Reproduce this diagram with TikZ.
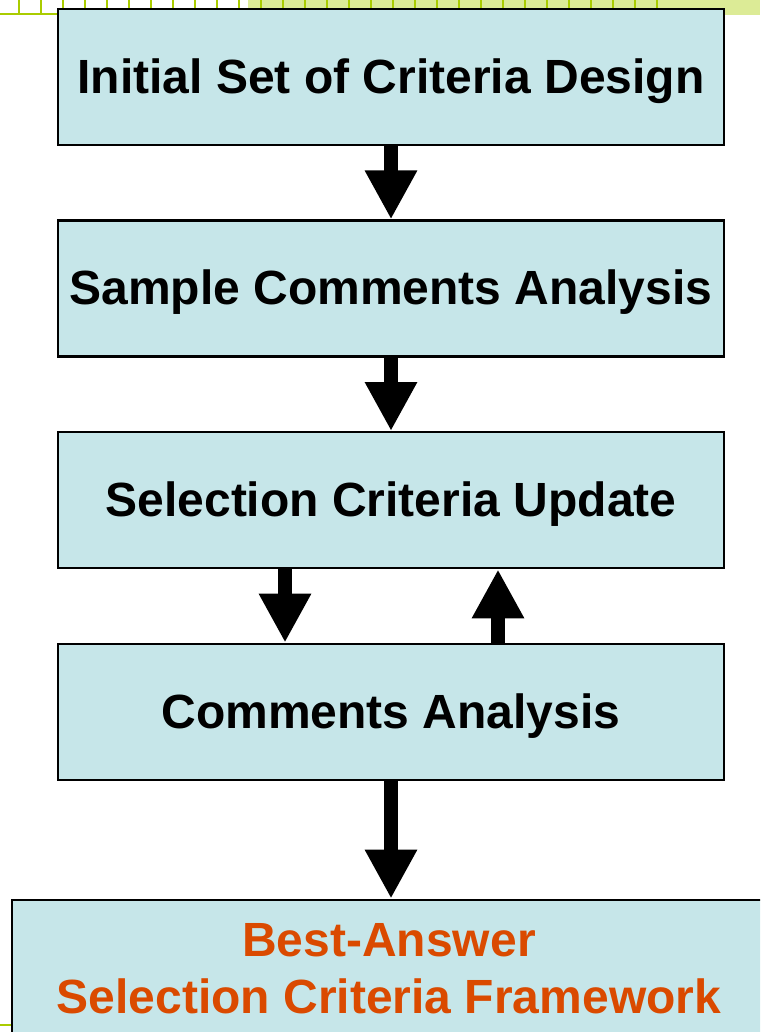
\documentclass[tikz,border=0pt]{standalone}
\usepackage{fontspec}
\setmainfont{Liberation Sans}
\usetikzlibrary{arrows.meta}
\definecolor{BoxBlue}{HTML}{C6E6E9}
\definecolor{TitleOrange}{HTML}{DA4A00}
\definecolor{BandGreen}{HTML}{DCEB96}
\definecolor{LineGreen}{HTML}{AACC00}

\begin{document}
\begin{tikzpicture}[x=0.5pt, y=-0.5pt, node distance={105.8pt},
    main/.style = {draw=black, line width=1.2pt, fill=BoxBlue, minimum width=333pt, minimum height=68pt, align=center, text depth=1pt, font=\fontsize{24pt}{28.5pt}\selectfont\bfseries},
    flow/.style = {line width=7pt, -{Triangle[width=24.5pt, length=24.5pt]}}]
      \clip (0,0) rectangle (760,1032);
      % slide decoration
      \fill[BandGreen] (248,0) rectangle (760,15.5);
      \draw[LineGreen, line width=1.2pt] (0,14) -- (248,14);
      \foreach \x in {0,...,29}
        \draw[LineGreen, line width=1.25pt] (19+22*\x,0) -- (19+22*\x,14);
      \draw[LineGreen, line width=1pt] (0,1025) -- (40,1025);
      % steps
      \node[main] (0) at (391,77) {Initial Set of Criteria Design};
      \node[main] (1) [below of=0] {Sample Comments Analysis};
      \node[main] (2) [below of=1] {Selection Criteria Update};
      \node[main] (3) [below of=2] {Comments Analysis};
      \node[main, minimum width=377pt, minimum height=70pt, text=TitleOrange, node distance=129pt, xshift=-1pt] (4) [below of=3] {Best-Answer\\Selection Criteria Framework};
      \draw[flow] (0) -- (1);
      \draw[flow] (1) -- (2);
      \draw[flow] ([xshift=-53pt]2.south) -- ([xshift=-53pt]3.north);
      \draw[flow] ([xshift=53.5pt]3.north) -- ([xshift=53.5pt]2.south);
      \draw[flow] (3) -- ([xshift=1pt]4.north);
    \end{tikzpicture}
\end{document}
